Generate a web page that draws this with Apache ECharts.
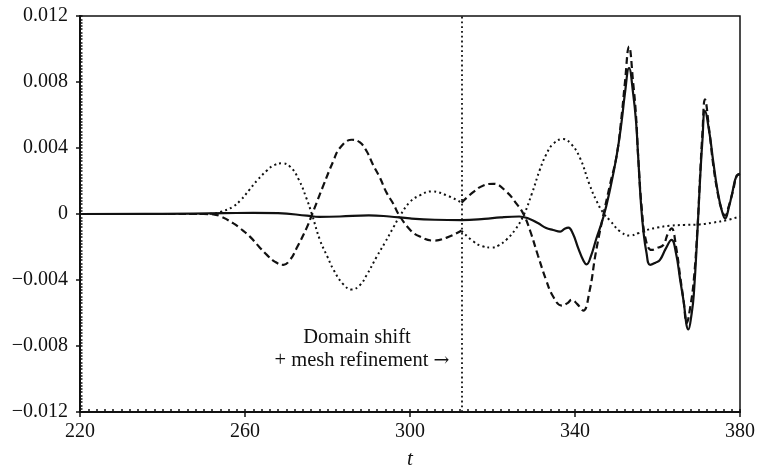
<!DOCTYPE html>
<html>
<head>
<meta charset="utf-8">
<script src="https://cdn.jsdelivr.net/npm/echarts@6/dist/echarts.min.js"></script>
<style>
  html, body { margin: 0; padding: 0; background: #fff; }
  #chart-container { width: 758px; height: 475px; }
</style>
</head>
<body>
<div id="chart-container"></div>
<script>
// values, y in units of 1e-3
var xTicks = [220, 260, 300, 340, 380];
var yTicks = [-12, -8, -4, 0, 4, 8, 12];
var shiftT = 312.5;   // domain shift + mesh refinement

var dottedPts = [
    [220, 0], [235, 0], [250, 0], [252, 0.02], [254, 0.12], [257, 0.43], [259, 0.85],
    [261, 1.45], [263, 2.05], [265.3, 2.63], [267, 2.95], [269, 3.07], [271, 2.85],
    [273, 2.1], [274.9, 0.95], [276.2, 0], [278.2, -1.6], [280, -2.6], [281.5, -3.4],
    [283.8, -4.25], [285.9, -4.58], [287.9, -4.3], [289.5, -3.7], [291.9, -2.6],
    [294, -1.7], [296, -0.8], [297.6, -0.1], [300, 0.73], [302.4, 1.13], [305.3, 1.37],
    [308.9, 1.13], [312.5, 0.69], [312.5, '-'], [312.5, -1.03], [315.4, -1.67],
    [317.5, -1.95], [319.8, -2.03], [321.5, -1.9], [323.4, -1.55], [325.5, -0.95],
    [327.5, -0.1], [329.5, 1.2], [331.5, 2.7], [333, 3.6], [334.7, 4.25], [337.1, 4.54],
    [339.2, 4.2], [341.2, 3.4], [343.5, 1.8], [345.2, 0.8], [346.9, 0.05], [348.5, -0.4],
    [350.9, -1.05], [353.3, -1.31], [355.5, -1.15], [357.4, -0.97], [360, -0.82],
    [363, -0.71], [366.5, -0.66], [370.3, -0.63], [373.5, -0.52], [376.8, -0.37], [380, -0.15]
];

var dashedPts = [
    [220, 0], [240, 0], [250, 0], [252.3, -0.02], [254.5, -0.2], [257.2, -0.57], [259, -0.9],
    [261.2, -1.37], [263.3, -1.95], [265.3, -2.48], [267.3, -2.9], [269.3, -3.08],
    [271, -2.75], [272.5, -2.08], [274.9, -0.87], [276.3, 0], [279, 1.73], [281.4, 3.2],
    [283, 4.0], [285.9, 4.5], [287.8, 4.35], [289.5, 3.8], [291, 3.0], [292.7, 2.2],
    [294.3, 1.3], [296, 0.6], [297.2, 0], [300, -0.95], [302.4, -1.37], [305.7, -1.61],
    [308.9, -1.43], [312.5, -1.0], [312.5, '-'], [312.5, 0.69], [315.4, 1.34], [317.8, 1.73],
    [320.2, 1.83], [323.4, 1.34], [325.8, 0.63], [327.5, 0], [329.1, -1.0], [331, -2.5],
    [333, -4.0], [334.7, -5.0], [336.8, -5.55], [338.2, -5.4], [339.2, -5.2], [340.5, -5.45],
    [342, -5.85], [343.5, -4.7], [345, -2.4], [346.5, -0.5], [348.5, 1.8], [350.1, 3.54],
    [351.3, 5.94], [352.1, 7.95], [353.1, 10.15], [354.1, 7.95], [354.8, 5.94], [355.3, 3.54],
    [356.2, 0.3], [357.2, -1.6], [358.6, -2.18], [360, -2.05], [361.4, -1.88], [362.5, -1.2],
    [363.4, -0.87], [364.5, -2.0], [365.5, -3.8], [366.3, -5.2], [367.1, -6.6], [367.9, -5.7],
    [368.8, -4.0], [369.7, -0.8], [370.3, 2.2], [370.9, 4.94], [371.5, 6.95], [372.6, 4.94],
    [373.5, 3.0], [374.5, 1.4], [375.5, 0.3], [376.4, -0.1], [377.3, 0.5], [378.3, 1.4],
    [379.2, 2.3], [380, 2.45]
];

var solidPts = [
    [220, 0], [240, 0.01], [255, 0.05], [262, 0.07], [268, 0.05], [275, -0.1], [278, -0.17],
    [283, -0.15], [290, -0.08], [295, -0.15], [300, -0.27], [306, -0.35], [312.5, -0.37],
    [318, -0.3], [322, -0.2], [326.5, -0.15], [329, -0.3], [331, -0.55], [333, -0.85],
    [334.7, -0.97], [336.4, -1.07], [337.5, -0.9], [338.4, -0.83], [339.5, -1.2],
    [340.8, -2.08], [342, -2.8], [342.8, -3.05], [343.8, -2.6], [345.2, -1.47],
    [346.9, -0.17], [348.5, 1.5], [350.1, 3.54], [351.3, 5.6], [352.1, 7.3], [353.1, 8.85],
    [354.1, 7.3], [354.8, 5.6], [355.3, 3.54], [356, 0.6], [356.6, -1.07], [357.3, -2.3],
    [358.2, -3.08], [359.5, -2.95], [360.6, -2.78], [362, -2.1], [363.4, -1.57],
    [364.5, -2.4], [365.5, -4.0], [366.2, -5.08], [367.5, -7.0], [368.3, -6.0],
    [368.8, -4.88], [369.7, -1.0], [370.3, 2.0], [370.9, 4.5], [371.5, 6.24], [372.6, 4.9],
    [373.5, 3.2], [374.5, 1.5], [375.5, 0.3], [376.4, -0.27], [377.3, 0.4], [378, 1.13],
    [379.2, 2.33], [380, 2.4]
];

var SERIF = '"Liberation Serif", "DejaVu Serif", serif';

var chartDom = document.getElementById('chart-container');
var myChart = echarts.init(chartDom, null, { renderer: 'canvas' });

function yLabel(v) {
    if (Math.abs(v) < 1e-9) return '0';
    var s = (Math.abs(v) / 1000).toFixed(3);
    return v < 0 ? '\u2212' + s : s;
}

var lineBase = {
    type: 'line',
    showSymbol: false,
    smooth: 0.45,
    connectNulls: false,
    animation: false,
    xAxisIndex: 0,
    yAxisIndex: 0
};

var option = {
    animation: false,
    grid: {
        left: 80, right: 18, top: 16, bottom: 60,
        show: true, borderColor: '#111', borderWidth: 1.5
    },
    xAxis: [
        {
            type: 'value', min: xTicks[0], max: xTicks[xTicks.length - 1], interval: 40,
            name: 't', nameLocation: 'middle', nameGap: 37,
            nameTextStyle: { fontFamily: SERIF, fontStyle: 'italic', fontSize: 21, color: '#111' },
            axisLine: { show: true, onZero: false, lineStyle: { color: '#111', width: 2 } },
            axisTick: { show: true, inside: false, length: 5, lineStyle: { color: '#111', width: 1.5 } },
            axisLabel: { fontFamily: SERIF, fontSize: 20, color: '#111', margin: 10 },
            splitLine: { show: false }
        },
        {
            type: 'value', min: 220, max: 380, interval: 2, position: 'bottom',
            axisLine: { show: false, onZero: false },
            axisTick: { show: true, inside: true, length: 3, lineStyle: { color: '#111', width: 1.5 } },
            axisLabel: { show: false },
            splitLine: { show: false }
        }
    ],
    yAxis: [
        {
            type: 'value', min: yTicks[0], max: yTicks[yTicks.length - 1], interval: 4,
            axisLine: { show: true, onZero: false, lineStyle: { color: '#111', width: 2 } },
            axisTick: { show: true, inside: false, length: 4, lineStyle: { color: '#111', width: 1.5 } },
            axisLabel: { fontFamily: SERIF, fontSize: 20, color: '#111', margin: 12, formatter: yLabel },
            splitLine: { show: false }
        },
        {
            type: 'value', min: -12, max: 12, interval: 0.2, position: 'left',
            axisLine: { show: false, onZero: false },
            axisTick: { show: true, inside: true, length: 2.5, lineStyle: { color: '#111', width: 1.5 } },
            axisLabel: { show: false },
            splitLine: { show: false }
        }
    ],
    series: [
        Object.assign({}, lineBase, {
            name: 'dotted',
            data: dottedPts,
            lineStyle: { color: '#111', width: 2, type: [2, 3.2] },
            markLine: {
                silent: true, symbol: 'none', label: { show: false },
                lineStyle: { color: '#111', width: 1.8, type: [1.8, 3] },
                data: [{ xAxis: shiftT }]
            }
        }),
        Object.assign({}, lineBase, {
            name: 'dashed',
            data: dashedPts,
            lineStyle: { color: '#111', width: 2.2, type: [7, 4] }
        }),
        Object.assign({}, lineBase, {
            name: 'solid',
            data: solidPts,
            lineStyle: { color: '#111', width: 2.2 }
        })
    ],
    graphic: [
        {
            type: 'text', z: 10,
            x: 357, y: 338,
            style: {
                text: 'Domain shift', fill: '#111',
                font: '20.5px ' + SERIF, textAlign: 'center', textVerticalAlign: 'middle'
            }
        },
        {
            type: 'text', z: 10,
            x: 362, y: 361,
            style: {
                text: '+ mesh refinement {a|\u2192}', fill: '#111',
                font: '20.5px ' + SERIF, textAlign: 'center', textVerticalAlign: 'middle',
                rich: { a: { fontFamily: '"DejaVu Serif", serif', fontSize: 19, fill: '#111' } }
            }
        }
    ]
};

myChart.setOption(option);
</script>
</body>
</html>
